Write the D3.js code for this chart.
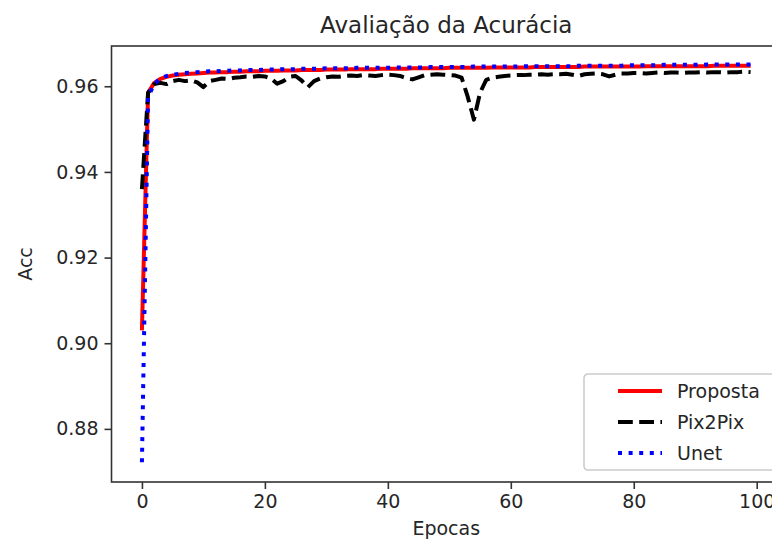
<!DOCTYPE html>
<html>
<head>
<meta charset="utf-8">
<script src="https://cdn.jsdelivr.net/npm/d3@7"></script>
<style>
  body { margin: 0; background: #fff; }
  svg { display: block; font-family: "DejaVu Sans", sans-serif; }
</style>
</head>
<body>
<div id="chart"></div>
<script>
// accuracy per epoch
const proposta = [
  0.9030, 0.9585, 0.9608, 0.9617, 0.9622, 0.9625, 0.9627, 0.9628, 0.9629, 0.9630,
  0.9631, 0.9632, 0.9632, 0.9633, 0.9633, 0.9634, 0.9634, 0.9635, 0.9635, 0.9635,
  0.9636, 0.9636, 0.9636, 0.9637, 0.9637, 0.9637, 0.9638, 0.9638, 0.9638, 0.9638,
  0.9639, 0.9639, 0.9639, 0.9639, 0.9640, 0.9640, 0.9640, 0.9640, 0.9640, 0.9641,
  0.9641, 0.9641, 0.9641, 0.9641, 0.9642, 0.9642, 0.9642, 0.9642, 0.9642, 0.9642,
  0.9643, 0.9643, 0.9643, 0.9643, 0.9643, 0.9643, 0.9643, 0.9644, 0.9644, 0.9644,
  0.9644, 0.9644, 0.9644, 0.9644, 0.9645, 0.9645, 0.9645, 0.9645, 0.9645, 0.9645,
  0.9645, 0.9645, 0.9646, 0.9646, 0.9646, 0.9646, 0.9646, 0.9646, 0.9646, 0.9646,
  0.9646, 0.9646, 0.9647, 0.9647, 0.9647, 0.9647, 0.9647, 0.9647, 0.9647, 0.9647,
  0.9647, 0.9647, 0.9647, 0.9648, 0.9648, 0.9648, 0.9648, 0.9648, 0.9648, 0.9648
];
const pix2pix = [
  0.9360, 0.9585, 0.9605, 0.9608, 0.9605, 0.9612, 0.9615, 0.9612, 0.9614, 0.9609,
  0.9598, 0.9612, 0.9615, 0.9618, 0.9617, 0.9620, 0.9621, 0.9623, 0.9622, 0.9624,
  0.9623, 0.9618, 0.9606, 0.9612, 0.9622, 0.9624, 0.9613, 0.9598, 0.9612, 0.9618,
  0.9621, 0.9623, 0.9622, 0.9624, 0.9625, 0.9624, 0.9626, 0.9625, 0.9624, 0.9626,
  0.9627, 0.9626, 0.9624, 0.9619, 0.9616, 0.9621, 0.9626, 0.9627, 0.9628, 0.9627,
  0.9626, 0.9625, 0.9620, 0.9575, 0.9522, 0.9585, 0.9615, 0.9620, 0.9622, 0.9624,
  0.9625, 0.9626, 0.9626, 0.9627, 0.9627, 0.9628, 0.9627, 0.9628, 0.9628, 0.9629,
  0.9627, 0.9624, 0.9628, 0.9629, 0.9630, 0.9628, 0.9623, 0.9627, 0.9630, 0.9630,
  0.9631, 0.9631, 0.9630, 0.9631, 0.9632, 0.9631, 0.9632, 0.9632, 0.9631, 0.9632,
  0.9632, 0.9633, 0.9632, 0.9633, 0.9633, 0.9632, 0.9633, 0.9633, 0.9634, 0.9633
];
const unet = [
  0.8722, 0.9575, 0.9606, 0.9618, 0.9624, 0.9627, 0.9629, 0.9631, 0.9632, 0.9633,
  0.9634, 0.9635, 0.9635, 0.9636, 0.9636, 0.9637, 0.9637, 0.9638, 0.9638, 0.9638,
  0.9639, 0.9639, 0.9639, 0.9640, 0.9640, 0.9640, 0.9641, 0.9641, 0.9641, 0.9641,
  0.9642, 0.9642, 0.9642, 0.9642, 0.9642, 0.9643, 0.9643, 0.9643, 0.9643, 0.9643,
  0.9643, 0.9644, 0.9644, 0.9644, 0.9644, 0.9644, 0.9644, 0.9645, 0.9645, 0.9645,
  0.9645, 0.9645, 0.9645, 0.9645, 0.9646, 0.9646, 0.9646, 0.9646, 0.9646, 0.9646,
  0.9646, 0.9646, 0.9647, 0.9647, 0.9647, 0.9647, 0.9647, 0.9647, 0.9647, 0.9647,
  0.9647, 0.9648, 0.9648, 0.9648, 0.9648, 0.9648, 0.9648, 0.9648, 0.9648, 0.9649,
  0.9649, 0.9649, 0.9649, 0.9649, 0.9649, 0.9650, 0.9650, 0.9650, 0.9650, 0.9650,
  0.9650, 0.9650, 0.9651, 0.9651, 0.9651, 0.9651, 0.9651, 0.9651, 0.9651, 0.9651
];
const xTicks = [0, 20, 40, 60, 80, 100];
const yTicks = [0.88, 0.90, 0.92, 0.94, 0.96];
const seriesNames = ["Proposta", "Pix2Pix", "Unet"];

const width = 772, height = 541;
const margin = { top: 46, right: -9, bottom: 59, left: 111.5 };

const svg = d3.select("#chart")
    .append("svg")
    .attr("width", width)
    .attr("height", height);

const x = d3.scaleLinear()
    .domain([-4.95, 103.95])
    .range([margin.left, width - margin.right]);
const y = d3.scaleLinear()
    .domain([0.8676, 0.9694])
    .range([height - margin.bottom, margin.top]);

const styles = {
    Proposta: { color: "#ff0000", dash: null },
    Pix2Pix: { color: "#000000", dash: "14.8,6.4" },
    Unet: { color: "#0000ff", dash: "4,6.6" }
};
const data = { Proposta: proposta, Pix2Pix: pix2pix, Unet: unet };

svg.append("clipPath").attr("id", "clip")
    .append("rect")
    .attr("x", x.range()[0]).attr("y", margin.top)
    .attr("width", x.range()[1] - x.range()[0])
    .attr("height", y.range()[0] - margin.top);

const line = d3.line()
    .x((d, i) => x(i))
    .y(d => y(d));

const lines = svg.append("g").attr("clip-path", "url(#clip)");
seriesNames.forEach(name => {
    lines.append("path")
        .datum(data[name])
        .attr("fill", "none")
        .attr("stroke", styles[name].color)
        .attr("stroke-width", 4)
        .attr("stroke-dasharray", styles[name].dash)
        .attr("stroke-linejoin", "round")
        .attr("d", line);
});

// axes
const xAxis = d3.axisBottom(x).tickValues(xTicks).tickSize(7).tickPadding(6).tickFormat(d3.format("d"));
const yAxis = d3.axisLeft(y).tickValues(yTicks).tickSize(7).tickPadding(6).tickFormat(d3.format(".2f"));

svg.append("g")
    .attr("transform", `translate(0,${y.range()[0]})`)
    .call(xAxis)
    .call(g => g.select(".domain").remove());
svg.append("g")
    .attr("transform", `translate(${x.range()[0]},0)`)
    .call(yAxis)
    .call(g => g.select(".domain").remove());

svg.selectAll(".tick line").attr("stroke", "#333").attr("stroke-width", 1.6);
svg.selectAll(".tick text").attr("fill", "#262626").style("font-size", "19px").style("font-family", "DejaVu Sans");

// frame
svg.append("rect")
    .attr("x", x.range()[0]).attr("y", margin.top)
    .attr("width", x.range()[1] - x.range()[0])
    .attr("height", y.range()[0] - margin.top)
    .attr("fill", "none")
    .attr("stroke", "#333")
    .attr("stroke-width", 1.6);

// titles
const cx = (x.range()[0] + x.range()[1]) / 2;
svg.append("text")
    .attr("x", cx).attr("y", 33)
    .attr("text-anchor", "middle")
    .attr("fill", "#262626")
    .style("font-size", "23px")
    .text("Avaliação da Acurácia");
svg.append("text")
    .attr("x", cx).attr("y", 535)
    .attr("text-anchor", "middle")
    .attr("fill", "#262626")
    .style("font-size", "19px")
    .text("Epocas");
svg.append("text")
    .attr("transform", `translate(32,${(y.range()[0] + margin.top) / 2}) rotate(-90)`)
    .attr("text-anchor", "middle")
    .attr("fill", "#262626")
    .style("font-size", "19px")
    .text("Acc");

// legend
const legend = svg.append("g").attr("transform", "translate(584,374)");
legend.append("rect")
    .attr("width", 200).attr("height", 96)
    .attr("rx", 4)
    .attr("fill", "#fff").attr("fill-opacity", 0.8)
    .attr("stroke", "#ccc").attr("stroke-width", 1.6);
seriesNames.forEach((name, i) => {
    const row = legend.append("g").attr("transform", `translate(0,${17 + i * 31})`);
    row.append("line")
        .attr("x1", 34).attr("x2", 78)
        .attr("stroke", styles[name].color)
        .attr("stroke-width", 4)
        .attr("stroke-dasharray", styles[name].dash);
    row.append("text")
        .attr("x", 93).attr("y", 7)
        .attr("fill", "#262626")
        .style("font-size", "19px")
        .text(name);
});
</script>
</body>
</html>
